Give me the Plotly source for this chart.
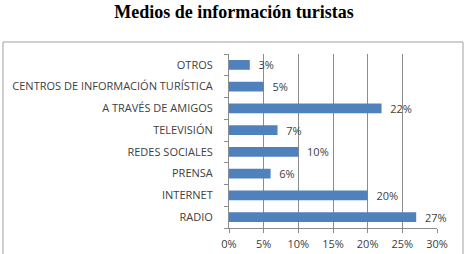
import plotly.graph_objects as go

categories = ["RADIO", "INTERNET", "PRENSA", "REDES SOCIALES", "TELEVISIÓN",
              "A TRAVÉS DE AMIGOS", "CENTROS DE INFORMACIÓN TURÍSTICA", "OTROS"]
values = [27, 20, 6, 10, 7, 22, 5, 3]
x_ticks = [0, 5, 10, 15, 20, 25, 30]
title = "Medios de información turistas"

W, H = 468, 254
L, R, T, B = 229, 31, 54, 26
pw, ph = W - L - R, H - T - B

fig = go.Figure(go.Bar(
    x=values, y=categories, orientation="h",
    marker=dict(color="#4F81BD", line=dict(width=0)),
    text=[f"\u00a0\u00a0{v}%" for v in values], textposition="outside",
    constraintext="none",
    textfont=dict(family="Open Sans", size=11, color="#404040"),
    cliponaxis=False, width=0.45,
))

fig.update_layout(
    width=W, height=H,
    margin=dict(l=L, r=R, t=T, b=B, autoexpand=False),
    paper_bgcolor="white", plot_bgcolor="white",
    showlegend=False,
    title=dict(text="<b>" + title + "</b>", x=0.5, xref="container", xanchor="center",
               y=1 - 12 / H, yref="container", yanchor="middle",
               font=dict(family="Liberation Serif", size=18, color="black")),
    xaxis=dict(range=[0, 30], tickvals=x_ticks, ticktext=[f"{t}%" for t in x_ticks],
               showgrid=True, gridcolor="#8c8c8c", gridwidth=1,
               showline=True, linecolor="#8c8c8c", linewidth=1,
               ticks="outside", ticklen=4, tickcolor="#8c8c8c",
               ticklabelstandoff=2, automargin=False,
               tickfont=dict(family="Open Sans", size=11, color="#404040"),
               zeroline=False, fixedrange=True),
    yaxis=dict(categoryorder="array", categoryarray=categories,
               showline=True, linecolor="#8c8c8c", linewidth=1,
               ticks="outside", tickson="boundaries", ticklen=4, tickcolor="#8c8c8c",
               ticklabelstandoff=13, automargin=False,
               tickfont=dict(family="Open Sans", size=11, color="#404040"),
               showgrid=False, fixedrange=True),
    shapes=[dict(type="rect", xref="paper", yref="paper",
                 x0=(3 - L) / pw, x1=(463 - L) / pw,
                 y0=(T + ph - 258) / ph, y1=(T + ph - 42) / ph,
                 line=dict(color="#a0a0a0", width=1), layer="below")],
)

fig.write_html("out.html")
